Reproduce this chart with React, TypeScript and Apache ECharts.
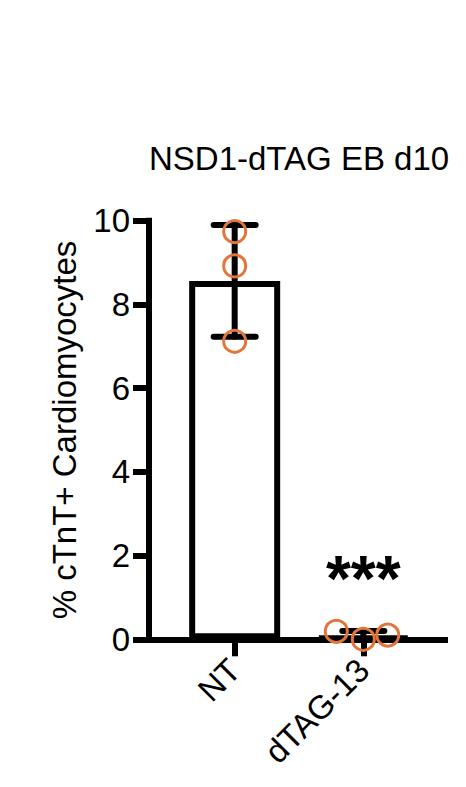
import React, { useEffect, useRef } from "react";
import * as echarts from "echarts";

// groups and values
const categories = ["NT", "dTAG-13"];
const barMeans = [8.56, 0.05];
const errLow = [7.23, 0.0];
const errHigh = [9.9, 0.2];
const ntPoints = [9.74, 8.92, 7.12];
const ntJitter = [0, 0, 0];
const dtagPoints = [0.19, 0.0, 0.1];
const dtagJitter = [-0.21, 0, 0.19];
const yTicks = [0, 2, 4, 6, 8, 10];
const significance = "***";
const starsAt = 1.45; // anchor of the *** above dTAG-13

const FONT = "'Liberation Sans', Arial, Helvetica, sans-serif";
const ORANGE = "#E2763A";

const App: React.FC = () => {
    const ref = useRef<HTMLDivElement>(null);

    useEffect(() => {
        if (!ref.current) return;
        const chart = echarts.init(ref.current, undefined, { renderer: "svg" });

        const points = [
            ...ntPoints.map((v, i) => [0 + ntJitter[i], v]),
            ...dtagPoints.map((v, i) => [1 + dtagJitter[i], v])
        ];

        chart.setOption({
            animation: false,
            textStyle: { fontFamily: FONT },
            title: {
                text: "NSD1-dTAG EB d10",
                left: 144,
                top: 137,
                textStyle: { fontSize: 33, fontWeight: "normal", color: "#000", fontFamily: FONT }
            },
            grid: { left: 149, right: 21, top: 220.7, bottom: 147.7, containLabel: false },
            xAxis: {
                type: "value",
                z: 3,
                min: -0.666,
                max: 1.635,
                splitLine: { show: false },
                axisLine: { onZero: false, lineStyle: { color: "#000", width: 6, cap: "square" } },
                axisTick: { customValues: [0, 1], length: 17, lineStyle: { color: "#000", width: 6 } },
                axisLabel: {
                    customValues: [0, 1],
                    formatter: (v: number) => categories[Math.round(v)] ?? "",
                    rotate: 45,
                    margin: 25,
                    fontSize: 33,
                    color: "#000",
                    fontFamily: FONT
                }
            },
            yAxis: {
                type: "value",
                min: yTicks[0],
                max: yTicks[yTicks.length - 1],
                interval: yTicks[1] - yTicks[0],
                name: "% cTnT+ Cardiomyocytes",
                nameLocation: "middle",
                nameGap: 68,
                nameTextStyle: { fontSize: 33, color: "#000", fontFamily: FONT },
                splitLine: { show: false },
                axisLine: { show: true, onZero: false, lineStyle: { color: "#000", width: 6, cap: "square" } },
                axisTick: { show: true, length: 16, lineStyle: { color: "#000", width: 6 } },
                axisLabel: { margin: 19, fontSize: 33, color: "#000", fontFamily: FONT }
            },
            series: [
                {
                    type: "bar",
                    z: 2,
                    barWidth: 91,
                    data: categories.map((_, i) => [i, barMeans[i]]),
                    itemStyle: { color: "#fff", borderColor: "#000", borderWidth: 6 }
                },
                {
                    type: "custom",
                    z: 4,
                    clip: false,
                    encode: { x: 0, y: [1, 2] },
                    data: categories.map((_, i) => [i, errLow[i], errHigh[i]]),
                    renderItem: (params: any, api: any) => {
                        const x = api.value(0);
                        const top = api.coord([x, api.value(2)]);
                        const bot = api.coord([x, api.value(1)]);
                        const hw = 21;
                        const style = { stroke: "#000", lineWidth: 6, lineCap: "round" };
                        return {
                            type: "group",
                            children: [
                                { type: "line", shape: { x1: top[0], y1: top[1], x2: bot[0], y2: bot[1] }, style },
                                { type: "line", shape: { x1: top[0] - hw, y1: top[1], x2: top[0] + hw, y2: top[1] }, style },
                                { type: "line", shape: { x1: bot[0] - hw, y1: bot[1], x2: bot[0] + hw, y2: bot[1] }, style }
                            ]
                        };
                    }
                },
                {
                    type: "scatter",
                    z: 5,
                    symbol: "circle",
                    symbolSize: 22,
                    data: points,
                    itemStyle: { color: "rgba(0,0,0,0)", borderColor: ORANGE, borderWidth: 3, opacity: 1 }
                },
                {
                    type: "custom",
                    z: 5,
                    clip: false,
                    data: [[1, starsAt]],
                    renderItem: (params: any, api: any) => {
                        const p = api.coord([api.value(0), api.value(1)]);
                        return {
                            type: "text",
                            x: p[0],
                            y: p[1],
                            style: {
                                text: significance,
                                fontSize: 64,
                                fontWeight: "bold",
                                fontFamily: FONT,
                                fill: "#000",
                                align: "center",
                                verticalAlign: "middle"
                            }
                        };
                    }
                }
            ]
        });

        return () => chart.dispose();
    }, []);

    return (
        <div
            ref={ref}
            style={{ position: "fixed", left: 0, top: 0, width: 466, height: 787, background: "#fff" }}
        />
    );
};

export default App;
